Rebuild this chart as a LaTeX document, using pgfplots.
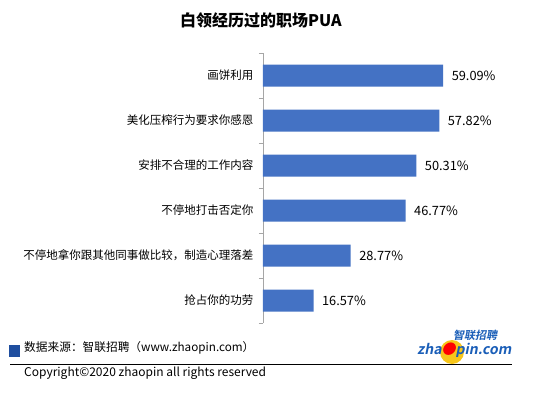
\documentclass[border=0pt]{standalone}
\usepackage{pgfplots}
\pgfplotsset{compat=1.18}
\usepackage{fontspec}
\setmainfont{Noto Sans CJK SC}
\newfontfamily\logofont[FakeSlant=0.2]{Noto Sans CJK SC Bold}
\definecolor{barblue}{HTML}{4472C4}
\definecolor{sqblue}{HTML}{1F4E9F}
\definecolor{logoblue}{HTML}{1A5EB8}
\definecolor{logoyellow}{HTML}{F7C61A}
\begin{document}
\begin{tikzpicture}[x=1pt,y=1pt]
\fill[white] (0,0) rectangle (544,392);
\begin{axis}[
  at={(263pt,69pt)}, anchor=south west,
  scale only axis, width=244pt, height=270pt,
  xmin=0, xmax=80,
  ymin=-0.5, ymax=5.5, y dir=reverse,
  axis x line=none,
  axis y line*=left,
  y axis line style={draw=gray!70, line width=0.6pt},
  ytick={0,1,2,3,4,5},
  yticklabels={画饼利用,美化压榨行为要求你感恩,安排不合理的工作内容,不停地打击否定你,{不停地拿你跟其他同事做比较，制造心理落差},抢占你的功劳},
  major tick length=0pt,
  minor ytick={-0.5,0.5,1.5,2.5,3.5,4.5,5.5},
  minor tick length=4pt, tick align=outside,
  minor tick style={draw=gray!70, line width=0.6pt},
  yticklabel style={font=\fontsize{11.5}{13}\selectfont, text=black, xshift=-6pt},
  xbar, bar width=22pt,
  /pgf/number format/assume math mode=true,
  nodes near coords={\pgfmathprintnumber[fixed,fixed zerofill,precision=2,assume math mode=true]{\pgfplotspointmeta}\%},
  nodes near coords style={font=\fontsize{12.8}{14}\selectfont, text=black, xshift=5pt, anchor=west},
  point meta=x,
  clip=false,
]
\addplot[fill=barblue, draw=none] coordinates {(59.09,0) (57.82,1) (50.31,2) (46.77,3) (28.77,4) (16.57,5)};
\end{axis}
\node[font=\fontsize{16}{18}\selectfont\bfseries] at (261,372) {白领经历过的职场PUA};
\fill[sqblue] (9,35) rectangle (20,47);
\node[anchor=west, font=\fontsize{11.7}{13}\selectfont, inner sep=0] at (24,44) {数据来源：智联招聘（www.zhaopin.com）};
\draw[black, line width=0.6pt] (10,28) -- (512,28);
\node[anchor=west, font=\fontsize{12}{13}\selectfont, inner sep=0] at (24,19) {Copyright©2020 zhaopin all rights reserved};
\fill[logoyellow] (452,40) circle (12);
\node[anchor=west, font=\fontsize{11}{12}\selectfont\logofont, text=logoblue, inner sep=0] at (453,57) {智联招聘};
\node[anchor=west, font=\fontsize{14}{15}\selectfont\logofont, text=logoblue, inner sep=0] at (417,42) {zha\textcolor{red}{●}pin.com};
\end{tikzpicture}
\end{document}
